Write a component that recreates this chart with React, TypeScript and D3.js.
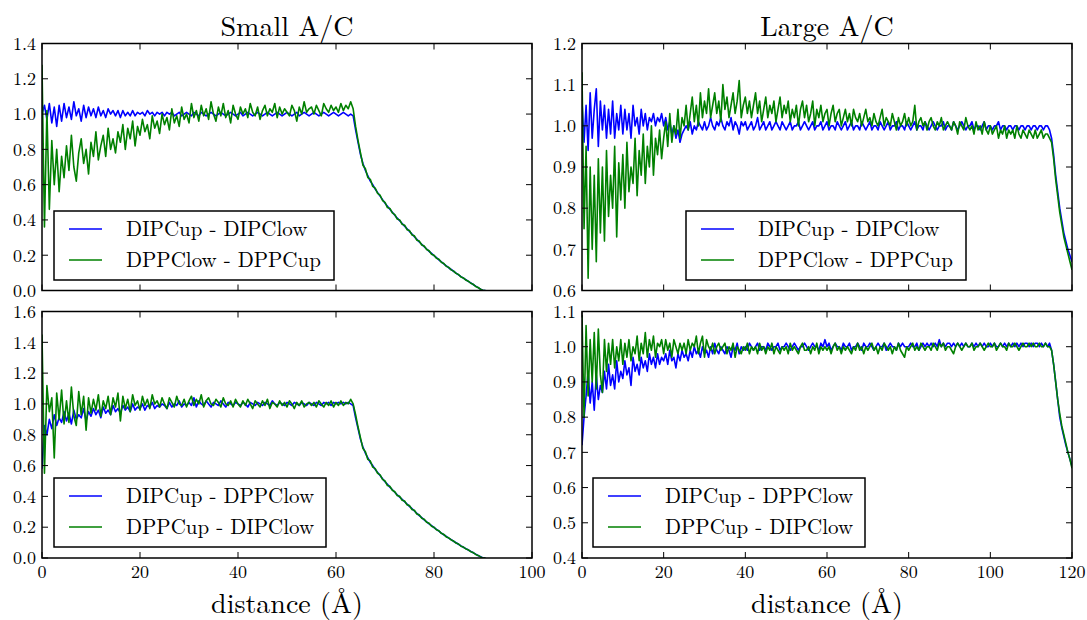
import React from 'react';
import * as d3 from 'd3';

// sampling step along distance (Å)
const STEP = 0.5;

// ---- Small A/C, top: DIPCup - DIPClow (blue), DPPClow - DPPCup (green) ----
const smallTopBlueHead = [
  1.00, 1.05, 0.97, 1.06, 0.95, 1.04, 0.93, 1.05, 0.96, 1.06,
  0.98, 1.04, 0.97, 1.07, 0.99, 1.03, 0.96, 1.05, 0.98, 1.04,
  0.99, 1.03, 0.98, 1.04, 0.99, 1.02, 0.98, 1.03, 1.00, 1.02,
  0.99, 1.02, 0.98, 1.02, 0.99, 1.01, 0.99, 1.02, 0.99, 1.01,
  1.00, 1.01, 0.99, 1.02, 1.00, 1.01, 0.99, 1.01, 1.00, 1.01,
  0.99, 1.01, 1.00, 1.01, 0.99, 1.00, 1.01, 0.99, 1.00, 1.01,
  1.00, 0.99, 1.01, 1.00, 0.99, 1.01, 1.00, 0.99, 1.00, 1.01,
  1.00, 0.99, 1.00, 1.01, 1.00, 0.99, 1.00, 1.01, 1.00, 0.99,
  1.00, 1.01, 0.99, 1.00, 1.01, 1.00, 0.99, 1.00, 1.01, 1.00,
  0.99, 1.00, 1.01, 1.00, 0.99, 1.00, 1.01, 1.00, 0.99, 1.00,
  1.01, 1.00, 0.99, 1.00, 1.01, 0.99, 1.00, 1.01, 1.00, 0.99,
  1.00, 1.01, 1.00, 0.99, 1.00, 1.01, 1.00, 0.99, 1.00, 1.01,
  1.00, 0.99, 1.00, 1.01, 1.00, 0.99, 1.00, 0.99, 0.91, 0.84,
];
const smallTopGreenHead = [
  1.28, 0.36, 1.02, 0.46, 0.85, 0.60, 0.80, 0.56, 0.76, 0.64,
  0.82, 0.68, 0.88, 0.70, 0.62, 0.78, 0.86, 0.72, 0.80, 0.66,
  0.84, 0.76, 0.90, 0.74, 0.82, 0.88, 0.76, 0.92, 0.80, 0.86,
  0.78, 0.90, 0.84, 0.94, 0.80, 0.92, 0.86, 0.96, 0.82, 0.93,
  0.88, 0.97, 0.90, 0.94, 0.86, 0.99, 0.92, 0.96, 0.89, 1.00,
  0.94, 0.98, 0.91, 1.03, 0.95, 0.99, 0.93, 1.04, 0.97, 1.00,
  0.95, 1.06, 0.98, 1.02, 0.96, 1.05, 0.99, 1.03, 0.97, 1.07,
  1.00, 0.96, 1.04, 0.99, 1.06, 0.98, 1.02, 0.95, 1.05, 1.00,
  0.97, 1.04, 1.00, 1.03, 0.98, 1.06, 1.01, 0.99, 1.04, 0.97,
  1.02, 1.05, 0.99, 1.03, 1.01, 1.06, 0.98, 1.04, 1.00, 1.03,
  1.01, 0.99, 1.05, 1.02, 0.96, 1.04, 1.00, 1.07, 1.01, 1.03,
  1.04, 1.00, 1.05, 1.02, 0.99, 1.06, 1.03, 1.01, 1.05, 1.02,
  1.04, 1.01, 1.06, 1.02, 1.05, 1.03, 1.07, 1.03, 0.93, 0.85,
];

// ---- Small A/C, bottom: DIPCup - DPPClow (blue), DPPCup - DIPClow (green) ----
const smallBottomBlueHead = [
  0.58, 0.86, 0.80, 0.90, 0.84, 0.93, 0.86, 0.91, 0.88, 0.95,
  0.89, 0.94, 0.87, 0.96, 0.90, 0.93, 0.91, 0.97, 0.89, 0.95,
  0.92, 0.97, 0.93, 0.96, 0.91, 0.98, 0.94, 0.96, 0.93, 0.99,
  0.95, 0.97, 0.94, 0.99, 0.96, 0.98, 0.95, 1.00, 0.96, 0.98,
  0.97, 1.00, 0.96, 0.99, 0.98, 1.01, 0.97, 0.99, 0.98, 1.00,
  0.99, 0.97, 1.01, 0.98, 1.00, 0.99, 1.02, 0.98, 1.00, 0.99,
  1.01, 0.99, 1.04, 0.98, 1.02, 1.00, 0.99, 1.02, 1.00, 0.98,
  1.01, 1.00, 0.99, 1.02, 1.00, 0.98, 1.01, 1.00, 0.99, 1.01,
  1.00, 0.99, 1.01, 1.00, 0.98, 1.01, 1.00, 0.99, 1.01, 1.00,
  0.99, 1.01, 1.00, 0.99, 1.02, 1.00, 0.99, 1.01, 1.00, 0.99,
  1.01, 1.00, 0.99, 1.01, 1.00, 0.99, 1.01, 1.00, 0.99, 1.01,
  1.00, 0.99, 1.01, 1.00, 0.99, 1.01, 1.00, 1.01, 0.99, 1.01,
  1.00, 1.01, 1.00, 1.01, 1.00, 1.01, 1.00, 0.99, 0.91, 0.84,
];
const smallBottomGreenHead = [
  1.45, 0.55, 1.12, 0.95, 1.04, 0.65, 1.07, 0.90, 1.09, 0.87,
  1.02, 0.88, 1.11, 0.92, 0.86, 1.08, 0.93, 1.05, 0.83, 1.04,
  0.94, 1.03, 0.96, 1.06, 0.92, 1.02, 0.97, 1.05, 0.93, 1.04,
  0.98, 1.07, 0.89, 1.05, 0.97, 1.03, 0.95, 1.06, 0.99, 1.02,
  0.96, 1.05, 0.99, 1.03, 0.97, 1.06, 1.00, 1.02, 0.98, 1.04,
  1.00, 0.97, 1.04, 1.01, 0.98, 1.05, 1.00, 0.99, 1.03, 0.98,
  1.02, 1.05, 0.99, 1.03, 1.00, 1.06, 0.98, 1.02, 1.04, 1.00,
  0.99, 1.03, 1.01, 0.98, 1.04, 1.00, 0.99, 1.02, 0.98, 1.03,
  1.00, 0.98, 1.02, 0.99, 1.03, 1.00, 0.97, 1.02, 1.00, 0.98,
  1.02, 0.99, 1.03, 0.97, 1.01, 1.00, 0.98, 1.02, 0.99, 1.01,
  0.98, 1.02, 1.00, 0.97, 1.01, 0.99, 1.02, 0.98, 1.00, 1.01,
  0.99, 1.01, 0.98, 1.02, 1.00, 0.98, 1.01, 0.99, 1.02, 0.98,
  1.01, 0.99, 1.02, 0.99, 1.01, 1.00, 1.03, 1.00, 0.93, 0.85,
];

// decaying tails of the small system, 65 .. 90.5 Å
const smallTailBlue = [
  0.77, 0.72, 0.68, 0.65, 0.62, 0.60, 0.575, 0.555, 0.535, 0.515,
  0.495, 0.478, 0.46, 0.443, 0.427, 0.41, 0.395, 0.38, 0.365, 0.35,
  0.335, 0.32, 0.305, 0.29, 0.275, 0.262, 0.248, 0.235, 0.222, 0.21,
  0.198, 0.186, 0.174, 0.162, 0.151, 0.14, 0.129, 0.119, 0.109, 0.099,
  0.089, 0.079, 0.07, 0.061, 0.052, 0.043, 0.034, 0.025, 0.016, 0.008,
  0, 0,
];
const smallTailGreen = [
  0.78, 0.71, 0.69, 0.64, 0.63, 0.59, 0.58, 0.55, 0.54, 0.51,
  0.50, 0.47, 0.465, 0.44, 0.43, 0.405, 0.40, 0.375, 0.37, 0.345,
  0.34, 0.315, 0.31, 0.285, 0.28, 0.258, 0.252, 0.232, 0.225, 0.206,
  0.20, 0.183, 0.177, 0.16, 0.153, 0.137, 0.131, 0.117, 0.11, 0.097,
  0.091, 0.077, 0.071, 0.059, 0.053, 0.041, 0.035, 0.023, 0.017, 0.007,
  0, 0,
];

// ---- Large A/C, top: DIPCup - DIPClow (blue), DPPClow - DPPCup (green) ----
const largeTopBlue = [
  1.06, 0.96, 1.05, 0.94, 1.08, 0.97, 1.04, 1.09, 0.95, 1.06,
  0.99, 1.05, 0.97, 1.04, 0.98, 1.06, 0.97, 1.03, 0.99, 1.05,
  0.98, 1.04, 0.99, 1.03, 0.97, 1.05, 1.00, 1.02, 0.98, 1.04,
  1.00, 1.03, 0.99, 1.02, 1.01, 1.03, 1.00, 1.02, 1.01, 1.03,
  1.00, 1.02, 0.99, 1.01, 0.98, 1.00, 0.97, 0.99, 0.96, 0.98,
  0.99, 1.00, 0.99, 1.01, 0.98, 1.00, 0.99, 1.01, 1.00, 0.99,
  1.01, 0.99, 1.00, 1.02, 1.00, 0.99, 1.01, 1.00, 1.02, 1.00,
  0.99, 1.01, 1.00, 1.02, 0.99, 1.01, 1.00, 0.98, 1.01, 1.00,
  1.01, 0.99, 1.00, 1.01, 0.99, 1.00, 1.02, 0.99, 1.00, 1.01,
  0.99, 1.00, 1.01, 0.99, 1.00, 1.01, 1.00, 0.99, 1.01, 1.00,
  0.99, 1.00, 1.01, 0.99, 1.00, 1.00, 1.01, 0.99, 1.00, 1.01,
  1.00, 0.99, 1.00, 1.01, 0.99, 1.00, 1.00, 1.01, 0.99, 1.00,
  1.01, 0.99, 1.00, 1.00, 0.99, 1.01, 1.00, 0.99, 1.00, 1.01,
  0.99, 1.00, 1.01, 0.99, 1.00, 1.00, 0.99, 1.01, 1.00, 0.99,
  1.00, 1.01, 0.99, 1.00, 1.00, 0.99, 1.01, 1.00, 0.99, 1.00,
  1.01, 0.99, 1.00, 1.00, 1.01, 0.99, 1.00, 1.00, 0.99, 1.01,
  1.00, 0.99, 1.00, 1.01, 0.99, 1.00, 1.00, 0.99, 1.01, 1.00,
  0.99, 1.00, 1.01, 1.00, 0.99, 1.00, 1.00, 1.01, 0.99, 1.00,
  1.00, 0.99, 1.01, 1.00, 0.99, 1.00, 1.01, 1.00, 0.99, 1.00,
  1.00, 1.01, 0.99, 1.00, 1.00, 0.99, 1.00, 1.01, 0.99, 1.00,
  1.00, 0.99, 1.00, 1.00, 1.01, 0.99, 1.00, 1.00, 0.99, 1.00,
  1.00, 0.99, 1.00, 1.00, 0.99, 1.00, 1.00, 0.99, 1.00, 1.00,
  0.99, 1.00, 1.00, 0.99, 1.00, 1.00, 0.99, 1.00, 1.00, 0.99,
  0.97, 0.93, 0.88, 0.84, 0.80, 0.77, 0.74, 0.72, 0.70, 0.685,
  0.67,
];
const largeTopGreen = [
  1.13, 0.75, 0.95, 0.63, 0.90, 0.70, 0.88, 0.67, 0.92, 0.74,
  0.90, 0.72, 0.94, 0.78, 0.88, 0.80, 0.95, 0.73, 0.91, 0.82,
  0.93, 0.80, 0.96, 0.84, 0.90, 0.86, 0.97, 0.83, 0.94, 0.88,
  0.98, 0.86, 0.95, 0.90, 1.00, 0.88, 0.97, 0.93, 0.99, 0.92,
  0.97, 1.01, 0.95, 1.03, 0.96, 1.00, 0.98, 1.04, 0.97, 1.02,
  1.00, 1.05, 0.99, 1.03, 1.07, 1.01, 1.05, 1.00, 1.08, 1.02,
  1.06, 1.03, 1.09, 1.02, 1.05, 1.08, 1.03, 1.06, 1.01, 1.10,
  1.04, 1.07, 1.02, 1.05, 1.08, 1.03, 1.06, 1.11, 1.02, 1.05,
  1.07, 1.03, 1.06, 1.02, 1.05, 1.08, 1.03, 1.06, 1.01, 1.04,
  1.07, 1.02, 1.05, 1.03, 1.06, 1.01, 1.04, 1.07, 1.02, 1.05,
  1.03, 1.06, 1.01, 1.04, 1.02, 1.05, 1.00, 1.04, 1.06, 1.02,
  1.05, 1.01, 1.03, 1.06, 1.00, 1.04, 1.02, 1.05, 1.01, 1.03,
  1.04, 1.00, 1.03, 1.05, 1.01, 1.03, 1.04, 1.00, 1.02, 1.04,
  1.01, 1.03, 1.00, 1.04, 1.02, 1.01, 1.03, 1.00, 1.02, 1.04,
  1.01, 1.02, 1.00, 1.03, 1.01, 1.00, 1.02, 1.04, 1.00, 1.02,
  1.01, 1.00, 1.03, 1.01, 0.99, 1.02, 1.00, 1.01, 1.03, 1.00,
  1.02, 1.00, 1.01, 1.05, 0.99, 1.01, 1.02, 1.00, 1.01, 0.99,
  1.01, 1.02, 1.00, 0.99, 1.01, 1.00, 1.02, 0.99, 1.00, 1.01,
  1.00, 0.99, 1.01, 1.00, 0.98, 1.01, 1.00, 0.99, 1.02, 1.00,
  0.99, 1.00, 0.98, 1.01, 0.99, 1.00, 0.98, 1.01, 0.99, 0.98,
  1.00, 0.98, 0.99, 1.00, 0.97, 0.99, 0.98, 1.00, 0.97, 0.99,
  0.98, 0.99, 0.97, 1.00, 0.98, 0.97, 0.99, 0.98, 0.97, 0.99,
  0.98, 0.97, 0.99, 0.97, 0.98, 0.99, 0.97, 0.98, 0.98, 0.97,
  0.96, 0.92, 0.87, 0.83, 0.79, 0.76, 0.73, 0.71, 0.69, 0.67,
  0.65,
];

// ---- Large A/C, bottom: DIPCup - DPPClow (blue), DPPCup - DIPClow (green) ----
const largeBottomBlue = [
  0.72, 0.80, 0.86, 0.93, 0.84, 0.90, 0.82, 0.92, 0.85, 0.89,
  0.87, 0.93, 0.88, 0.95, 0.89, 0.92, 0.88, 0.96, 0.90, 0.93,
  0.91, 0.96, 0.92, 0.94, 0.89, 0.97, 0.93, 0.95, 0.92, 0.97,
  0.94, 0.96, 0.93, 0.98, 0.95, 0.97, 0.94, 0.98, 0.95, 0.97,
  0.96, 0.98, 0.95, 0.99, 0.96, 0.97, 0.94, 0.98, 0.96, 0.99,
  0.97, 0.98, 0.96, 0.99, 0.97, 1.00, 0.98, 0.99, 0.97, 1.00,
  0.98, 0.99, 0.97, 1.00, 0.98, 1.01, 0.99, 0.98, 1.00, 0.99,
  0.98, 1.00, 0.99, 0.97, 1.00, 0.99, 1.01, 0.98, 1.00, 0.99,
  1.00, 0.99, 1.01, 1.00, 0.99, 1.00, 1.01, 0.99, 1.00, 1.00,
  0.99, 1.01, 1.00, 0.99, 1.00, 1.00, 1.01, 0.99, 1.00, 1.00,
  1.01, 1.00, 0.99, 1.00, 1.01, 1.00, 0.99, 1.00, 1.00, 1.01,
  1.00, 0.99, 1.00, 1.01, 1.00, 1.00, 0.99, 1.01, 1.00, 1.02,
  1.00, 1.01, 0.99, 1.00, 1.01, 1.00, 1.00, 0.99, 1.01, 1.00,
  1.00, 1.01, 0.99, 1.00, 1.00, 1.01, 1.00, 0.99, 1.01, 1.00,
  1.00, 1.01, 1.00, 0.99, 1.00, 1.01, 1.00, 1.00, 1.01, 0.99,
  1.00, 1.01, 1.00, 1.00, 0.99, 1.01, 1.00, 1.01, 1.00, 1.00,
  1.00, 1.01, 1.00, 1.00, 1.01, 0.99, 1.00, 1.01, 1.00, 1.01,
  1.00, 1.01, 1.00, 1.01, 1.00, 1.02, 1.00, 1.01, 1.00, 1.01,
  1.01, 1.00, 1.01, 1.00, 1.01, 1.00, 1.01, 1.00, 1.01, 1.00,
  1.00, 1.01, 1.00, 1.01, 1.00, 1.01, 1.00, 1.01, 1.00, 1.00,
  1.01, 1.00, 1.01, 1.00, 1.00, 1.01, 1.00, 1.01, 1.00, 1.01,
  1.00, 1.01, 1.00, 1.01, 1.00, 1.01, 1.00, 1.01, 1.01, 1.00,
  1.01, 1.00, 1.01, 1.01, 1.00, 1.01, 1.00, 1.01, 1.00, 1.01,
  0.99, 0.95, 0.90, 0.85, 0.80, 0.77, 0.745, 0.72, 0.70, 0.68,
  0.66,
];
const largeBottomGreen = [
  1.09, 0.80, 1.06, 0.86, 1.02, 0.90, 1.04, 0.88, 1.05, 0.92,
  0.87, 1.02, 0.93, 1.01, 0.95, 1.02, 0.94, 1.00, 0.96, 1.02,
  0.95, 1.01, 0.97, 1.02, 0.96, 1.00, 0.98, 1.03, 0.96, 1.01,
  0.98, 1.04, 0.97, 1.02, 0.99, 1.03, 0.97, 1.01, 1.00, 1.02,
  0.98, 1.02, 0.99, 1.01, 0.97, 1.02, 1.00, 0.98, 1.01, 0.99,
  1.01, 0.98, 1.02, 0.99, 1.01, 1.00, 1.03, 0.98, 1.01, 1.03,
  0.97, 1.02, 1.00, 0.99, 1.01, 0.98, 1.00, 1.01, 0.99, 1.00,
  1.01, 0.98, 1.00, 0.99, 1.01, 0.97, 1.00, 0.99, 0.98, 1.00,
  0.99, 1.01, 0.98, 1.00, 0.99, 1.00, 0.98, 1.01, 0.99, 1.00,
  0.98, 1.00, 0.99, 1.01, 0.98, 1.00, 0.99, 0.98, 1.00, 0.99,
  1.00, 0.98, 1.01, 0.99, 1.00, 0.99, 0.98, 1.00, 1.01, 0.99,
  0.99, 1.00, 0.98, 1.00, 0.99, 1.01, 0.98, 1.00, 0.99, 1.00,
  0.99, 1.00, 0.98, 1.00, 1.01, 0.99, 1.00, 0.98, 1.00, 0.99,
  1.00, 0.99, 0.98, 1.00, 0.99, 1.01, 0.99, 1.00, 0.98, 1.00,
  0.99, 1.00, 1.01, 0.99, 1.00, 0.98, 1.00, 0.99, 1.01, 1.00,
  0.99, 1.00, 0.98, 1.00, 0.99, 1.01, 0.99, 0.98, 0.97, 1.00,
  0.99, 1.00, 1.01, 0.99, 1.00, 0.99, 1.01, 1.00, 0.99, 1.00,
  1.00, 0.99, 1.01, 1.00, 0.99, 1.01, 1.00, 1.01, 0.99, 1.00,
  1.00, 0.99, 0.98, 1.00, 1.01, 1.00, 0.99, 1.00, 1.01, 1.00,
  1.00, 1.01, 0.99, 1.00, 1.00, 1.01, 1.00, 0.99, 1.00, 1.01,
  1.00, 1.00, 1.01, 0.99, 1.00, 1.01, 1.00, 1.00, 0.99, 1.01,
  1.00, 1.00, 1.01, 1.00, 0.99, 1.00, 1.01, 1.00, 1.00, 1.01,
  1.00, 1.01, 1.00, 1.00, 1.01, 1.00, 1.00, 1.01, 1.00, 1.00,
  0.99, 0.95, 0.90, 0.85, 0.81, 0.775, 0.75, 0.725, 0.70, 0.68,
  0.655,
];

// axis tick values
const smallXTicks = [0, 20, 40, 60, 80, 100];
const largeXTicks = [0, 20, 40, 60, 80, 100, 120];
const smallTopYTicks = [0, 0.2, 0.4, 0.6, 0.8, 1.0, 1.2, 1.4];
const smallBottomYTicks = [0, 0.2, 0.4, 0.6, 0.8, 1.0, 1.2, 1.4, 1.6];
const largeTopYTicks = [0.6, 0.7, 0.8, 0.9, 1.0, 1.1, 1.2];
const largeBottomYTicks = [0.4, 0.5, 0.6, 0.7, 0.8, 0.9, 1.0, 1.1];

const titles = ['Small A/C', 'Large A/C'];
const topLabels = ['DIPCup - DIPClow', 'DPPClow - DPPCup'];
const bottomLabels = ['DIPCup - DPPClow', 'DPPCup - DIPClow'];
const xLabel = 'distance (Å)';

const BLUE = '#0000ff';
const GREEN = '#008000';
const textStyle = { fontFamily: "'Latin Modern Roman'" };

type PanelSpec = {
  id: string;
  left: number; right: number; top: number; bottom: number;
  xDomain: [number, number]; yDomain: [number, number];
  xTicks: number[]; yTicks: number[];
  showXLabels: boolean;
  series: { values: number[]; color: string }[];
  labels: string[];
  legend: { x: number; y: number; w: number };
  title?: string;
  xLabel?: string;
};

const L = { x0: 42, x1: 532 };
const R = { x0: 582, x1: 1072 };
const T = { y0: 43.5, y1: 290.5 };
const B = { y0: 311.5, y1: 558 };

const panels: PanelSpec[] = [
  {
    id: 'a', left: L.x0, right: L.x1, top: T.y0, bottom: T.y1,
    xDomain: [0, 100], yDomain: [0, 1.4], xTicks: smallXTicks, yTicks: smallTopYTicks,
    showXLabels: false,
    series: [
      { values: smallTopBlueHead.concat(smallTailBlue), color: BLUE },
      { values: smallTopGreenHead.concat(smallTailGreen), color: GREEN },
    ],
    labels: topLabels, legend: { x: 54, y: 211, w: 280 }, title: titles[0],
  },
  {
    id: 'b', left: R.x0, right: R.x1, top: T.y0, bottom: T.y1,
    xDomain: [0, 120], yDomain: [0.6, 1.2], xTicks: largeXTicks, yTicks: largeTopYTicks,
    showXLabels: false,
    series: [
      { values: largeTopBlue, color: BLUE },
      { values: largeTopGreen, color: GREEN },
    ],
    labels: topLabels, legend: { x: 686, y: 211, w: 280 }, title: titles[1],
  },
  {
    id: 'c', left: L.x0, right: L.x1, top: B.y0, bottom: B.y1,
    xDomain: [0, 100], yDomain: [0, 1.6], xTicks: smallXTicks, yTicks: smallBottomYTicks,
    showXLabels: true,
    series: [
      { values: smallBottomBlueHead.concat(smallTailBlue), color: BLUE },
      { values: smallBottomGreenHead.concat(smallTailGreen), color: GREEN },
    ],
    labels: bottomLabels, legend: { x: 54, y: 478, w: 272 }, xLabel,
  },
  {
    id: 'd', left: R.x0, right: R.x1, top: B.y0, bottom: B.y1,
    xDomain: [0, 120], yDomain: [0.4, 1.1], xTicks: largeXTicks, yTicks: largeBottomYTicks,
    showXLabels: true,
    series: [
      { values: largeBottomBlue, color: BLUE },
      { values: largeBottomGreen, color: GREEN },
    ],
    labels: bottomLabels, legend: { x: 593, y: 478, w: 272 }, xLabel,
  },
];

function Panel({ p }: { p: PanelSpec }) {
  const x = d3.scaleLinear().domain(p.xDomain).range([p.left, p.right]);
  const y = d3.scaleLinear().domain(p.yDomain).range([p.bottom, p.top]);
  const line = d3.line<number>().x((_, i) => x(i * STEP)).y((v) => y(v));
  const tick = 6;
  const cx = (p.left + p.right) / 2;
  return (
    <g>
      <defs>
        <clipPath id={`clip-${p.id}`}>
          <rect x={p.left} y={p.top} width={p.right - p.left} height={p.bottom - p.top} />
        </clipPath>
      </defs>
      <g clipPath={`url(#clip-${p.id})`}>
        {p.series.map((s, i) => (
          <path key={i} d={line(s.values) || ''} fill="none" stroke={s.color} strokeWidth={1.6} strokeLinejoin="round" />
        ))}
      </g>
      {p.xTicks.map((t) => (
        <g key={`xt${t}`}>
          <line x1={x(t)} x2={x(t)} y1={p.bottom} y2={p.bottom - tick} stroke="#000" strokeWidth={1} />
          <line x1={x(t)} x2={x(t)} y1={p.top} y2={p.top + tick} stroke="#000" strokeWidth={1} />
          {p.showXLabels && (
            <text x={x(t)} y={p.bottom + 20} textAnchor="middle" style={textStyle} fontSize={18} fill="#000">
              {String(t)}
            </text>
          )}
        </g>
      ))}
      {p.yTicks.map((t) => (
        <g key={`yt${t}`}>
          <line x1={p.left} x2={p.left + tick} y1={y(t)} y2={y(t)} stroke="#000" strokeWidth={1} />
          <line x1={p.right} x2={p.right - tick} y1={y(t)} y2={y(t)} stroke="#000" strokeWidth={1} />
          <text x={p.left - 6} y={y(t)} dy="0.35em" textAnchor="end" style={textStyle} fontSize={18} fill="#000">
            {t.toFixed(1)}
          </text>
        </g>
      ))}
      <rect x={p.left} y={p.top} width={p.right - p.left} height={p.bottom - p.top} fill="none" stroke="#000" strokeWidth={1.5} />
      <g>
        <rect x={p.legend.x} y={p.legend.y} width={p.legend.w} height={69} fill="#fff" stroke="#000" strokeWidth={1.5} />
        {p.labels.map((lab, i) => {
          const ry = p.legend.y + 18 + i * 31;
          return (
            <g key={lab}>
              <line x1={p.legend.x + 15} x2={p.legend.x + 48} y1={ry} y2={ry} stroke={p.series[i].color} strokeWidth={1.6} />
              <text x={p.legend.x + 72} y={ry} dy="0.33em" style={textStyle} fontSize={21} fill="#000">
                {lab}
              </text>
            </g>
          );
        })}
      </g>
      {p.title && (
        <text x={cx} y={36} textAnchor="middle" style={textStyle} fontSize={28} fill="#000">
          {p.title}
        </text>
      )}
      {p.xLabel && (
        <text x={cx} y={613} textAnchor="middle" style={textStyle} fontSize={28} fill="#000">
          {p.xLabel}
        </text>
      )}
    </g>
  );
}

export default function App() {
  return (
    <svg width={1087} height={620} viewBox="0 0 1087 620" style={{ position: 'absolute', left: 0, top: 0, background: '#fff' }}>
      <rect x={0} y={0} width={1087} height={620} fill="#fff" />
      {panels.map((p) => (
        <Panel key={p.id} p={p} />
      ))}
    </svg>
  );
}
